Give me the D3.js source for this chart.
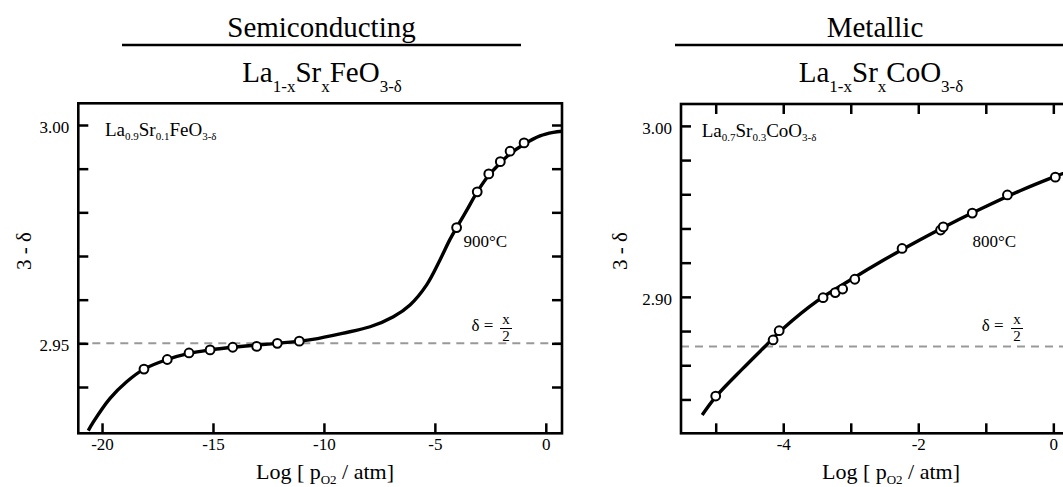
<!DOCTYPE html>
<html><head><meta charset="utf-8">
<script src="https://cdn.jsdelivr.net/npm/d3@7"></script>
<style>
body{margin:0;background:#fff}
svg{display:block}
text{font-family:"Liberation Serif","Times New Roman",serif;fill:#000}
</style>
</head><body>
<svg id="c" width="1063" height="487"></svg>
<script>
// ---------------- DATA ----------------
// Left panel: La0.9Sr0.1FeO3-d, 900 C
const feObsX = [-18.11,-17.06,-16.08,-15.13,-14.11,-13.03,-12.10,-11.11,-4.02,-3.09,-2.57,-2.05,-1.61,-0.98];
const feObsY = [2.9441,2.9463,2.9478,2.9485,2.9491,2.9493,2.9500,2.9505,2.9765,2.9847,2.9888,2.9916,2.9940,2.9959];
const feFitX = [-20.62,-20.39,-19.64,-18.89,-18.11,-17.06,-16.08,-15.13,-14.11,-13.03,-12.10,-11.11,-10.51,-9.17,-7.92,-6.87,-6.12,-5.37,-4.77,-4.33,-4.02,-3.56,-3.09,-2.57,-2.05,-1.61,-0.98,-0.26,0.34,0.8];
const feFitY = [2.9300,2.9320,2.9374,2.9412,2.9441,2.9463,2.9477,2.9485,2.9491,2.9496,2.9500,2.9505,2.9509,2.9523,2.9538,2.9561,2.9588,2.9634,2.9691,2.9737,2.9765,2.9805,2.9847,2.9885,2.9913,2.9934,2.9956,2.9975,2.9983,2.9986];
const feXTicks = [-20,-15,-10,-5,0];
const feXTickLabels = ["-20","-15","-10","-5","0"];
const feYTicks = [3.00,2.99,2.98,2.97,2.96,2.95,2.94];
const feYLabelValues = [3.00,2.95];
const feYLabelText = ["3.00","2.95"];
const feDeltaLevel = 2.95;

// Right panel: La0.7Sr0.3CoO3-d, 800 C
const coObsX = [-5.00,-4.15,-4.06,-3.41,-3.23,-3.12,-2.94,-2.24,-1.67,-1.63,-1.20,-0.68,0.03];
const coObsY = [2.8420,2.8748,2.8802,2.8995,2.9025,2.9046,2.9103,2.9283,2.9391,2.9409,2.9490,2.9596,2.9700];
const coFitX = [-5.2,-5.0,-4.6,-4.27,-4.0,-3.5,-3.0,-2.5,-2.0,-1.5,-1.0,-0.5,0,0.3];
const coFitY = [2.8309,2.8415,2.8580,2.8710,2.8815,2.8975,2.9100,2.9218,2.9328,2.9432,2.9528,2.9619,2.9700,2.9745];
const coXTicks = [-5,-4,-3,-2,-1,0];
const coXLabelValues = [-4,-2,0];
const coXLabelText = ["-4","-2","0"];
const coYTicks = [3.00,2.98,2.96,2.94,2.92,2.90,2.88,2.86,2.84];
const coYLabelValues = [3.00,2.90];
const coYLabelText = ["3.00","2.90"];
const coDeltaLevel = 2.871;

const headers = ["Semiconducting","Metallic"];
const tempLabels = ["900°C","800°C"];

// ---------------- LAYOUT ----------------
const svg = d3.select("#c");
const FONT = '"Liberation Serif","Times New Roman",serif';

function rich(g, x, y, parts, size, subSize, shift, anchor){
  const t = g.append("text").attr("x",x).attr("y",y).attr("font-size",size)
    .attr("text-anchor",anchor||"start");
  let down = false;
  parts.forEach(p=>{
    const ts = t.append("tspan").text(p.t);
    if(p.sub){
      ts.attr("font-size",subSize);
      if(!down){ ts.attr("dy",shift); down=true; }
    } else {
      if(down){ ts.attr("dy",-shift); down=false; }
    }
  });
  return t;
}

const panels = [
  {id:"fe", box:{l:78.3,r:562,t:103.3,b:433.3}, xd:[-21.07,0.73], yd:[2.9294,3.00497],
   obsX:feObsX, obsY:feObsY, fitX:feFitX, fitY:feFitY,
   xTicks:feXTicks, xLabVals:feXTicks, xLabText:feXTickLabels,
   yTicks:feYTicks, yLabVals:feYLabelValues, yLabText:feYLabelText,
   delta:feDeltaLevel, topTicks:false,
   header:headers[0], headCx:321.5, lineX:[122,521],
   formula:[{t:"La"},{t:"1-x",sub:1},{t:"Sr"},{t:"x",sub:1},{t:"FeO"},{t:"3-δ",sub:1}], formCx:322,
   inner:[{t:"La"},{t:"0.9",sub:1},{t:"Sr"},{t:"0.1",sub:1},{t:"FeO"},{t:"3-δ",sub:1}], innerX:105, innerY:136,
   temp:tempLabels[0], tempX:463.5, tempY:247,
   dX:471.5, fracCx:506, ytitleX:31, xtitleCx:325},
  {id:"co", box:{l:681,r:1075,t:104,b:433.3}, xd:[-5.514,0.321], yd:[2.8202,3.0128],
   obsX:coObsX, obsY:coObsY, fitX:coFitX, fitY:coFitY,
   xTicks:coXTicks, xLabVals:coXLabelValues, xLabText:coXLabelText,
   yTicks:coYTicks, yLabVals:coYLabelValues, yLabText:coYLabelText,
   delta:coDeltaLevel, topTicks:true,
   header:headers[1], headCx:875, lineX:[675,1077],
   formula:[{t:"La"},{t:"1-x",sub:1},{t:"Sr"},{t:"x",sub:1},{t:"CoO"},{t:"3-δ",sub:1}], formCx:881,
   inner:[{t:"La"},{t:"0.7",sub:1},{t:"Sr"},{t:"0.3",sub:1},{t:"CoO"},{t:"3-δ",sub:1}], innerX:701.7, innerY:136.5,
   temp:tempLabels[1], tempX:972.5, tempY:247,
   dX:981.7, fracCx:1017, ytitleX:627, xtitleCx:891}
];

panels.forEach((p,i)=>{
  const B = p.box;
  const x = d3.scaleLinear().domain(p.xd).range([B.l,B.r]);
  const y = d3.scaleLinear().domain(p.yd).range([B.b,B.t]);
  const g = svg.append("g");

  // header + rule + formula
  g.append("text").attr("x",p.headCx).attr("y",37).attr("font-size",29)
    .attr("text-anchor","middle").text(p.header);
  g.append("line").attr("x1",p.lineX[0]).attr("x2",p.lineX[1]).attr("y1",45).attr("y2",45)
    .attr("stroke","#000").attr("stroke-width",2.5);
  rich(g, p.formCx, 82, p.formula, 29, 17, 10, "middle");

  // clip
  const cid = "clip-"+p.id;
  svg.append("clipPath").attr("id",cid).append("rect")
    .attr("x",B.l).attr("y",B.t).attr("width",B.r-B.l).attr("height",B.b-B.t);

  // dashed delta = x/2 line
  g.append("line").attr("x1",B.l).attr("x2",B.r).attr("y1",y(p.delta)).attr("y2",y(p.delta))
    .attr("stroke","#999").attr("stroke-width",2).attr("stroke-dasharray","8,6");

  // axes (inward ticks)
  const styleAxis = (ax)=>{
    ax.attr("font-family",null).attr("font-size",null);
    ax.select(".domain").remove();
    ax.selectAll(".tick line").attr("stroke","#000").attr("stroke-width",2.5);
    ax.selectAll(".tick text").style("font-family",FONT).style("font-size","17px").attr("fill","#000");
  };
  const labX = v=>{ const k=p.xLabVals.indexOf(v); return k<0?"":p.xLabText[k]; };
  const labY = v=>{ const k=p.yLabVals.findIndex(u=>Math.abs(u-v)<1e-9); return k<0?"":p.yLabText[k]; };

  g.append("g").attr("transform",`translate(0,${B.b})`)
    .call(d3.axisBottom(x).tickValues(p.xTicks).tickSize(-10).tickPadding(4.6).tickFormat(labX))
    .call(styleAxis);
  if(p.topTicks){
    g.append("g").attr("transform",`translate(0,${B.t})`)
      .call(d3.axisTop(x).tickValues(p.xTicks).tickSize(-10).tickFormat(()=>""))
      .call(styleAxis);
  }
  g.append("g").attr("transform",`translate(${B.l},0)`)
    .call(d3.axisLeft(y).tickValues(p.yTicks).tickSize(-10).tickPadding(9).tickFormat(labY))
    .call(styleAxis)
    .selectAll(".tick text").attr("dy","0.42em");
  g.append("g").attr("transform",`translate(${B.r},0)`)
    .call(d3.axisRight(y).tickValues(p.yTicks).tickSize(-10).tickFormat(()=>""))
    .call(styleAxis);

  // frame
  g.append("rect").attr("x",B.l).attr("y",B.t).attr("width",B.r-B.l).attr("height",B.b-B.t)
    .attr("fill","none").attr("stroke","#000").attr("stroke-width",2.6);

  // fitted curve
  const fit = p.fitX.map((v,k)=>[v,p.fitY[k]]);
  g.append("path").datum(fit).attr("clip-path",`url(#${cid})`)
    .attr("fill","none").attr("stroke","#000").attr("stroke-width",3.4)
    .attr("d", d3.line().x(d=>x(d[0])).y(d=>y(d[1])).curve(d3.curveCatmullRom.alpha(0.5)));

  // observations
  const obs = p.obsX.map((v,k)=>[v,p.obsY[k]]);
  g.selectAll("circle.o").data(obs).join("circle")
    .attr("cx",d=>x(d[0])).attr("cy",d=>y(d[1])).attr("r",4.4)
    .attr("fill","#fff").attr("stroke","#000").attr("stroke-width",2);

  // inner labels
  rich(g, p.innerX, p.innerY, p.inner, 19, 11, 4, "start");
  g.append("text").attr("x",p.tempX).attr("y",p.tempY).attr("font-size",17).text(p.temp);
  g.append("text").attr("x",p.dX).attr("y",331).attr("font-size",17).text("δ =");
  g.append("text").attr("x",p.fracCx).attr("y",324).attr("font-size",15).attr("text-anchor","middle").text("x");
  g.append("line").attr("x1",p.fracCx-6).attr("x2",p.fracCx+6).attr("y1",328.5).attr("y2",328.5)
    .attr("stroke","#000").attr("stroke-width",1);
  g.append("text").attr("x",p.fracCx).attr("y",341).attr("font-size",15).attr("text-anchor","middle").text("2");

  // axis titles
  g.append("text").attr("transform",`translate(${p.ytitleX},251) rotate(-90)`)
    .attr("font-size",21).attr("text-anchor","middle").text("3 - δ");
  rich(g, p.xtitleCx, 478.5, [{t:"Log [ p"},{t:"O2",sub:1},{t:" / atm]"}], 22, 13, 5, "middle");
});
</script>
</body></html>
